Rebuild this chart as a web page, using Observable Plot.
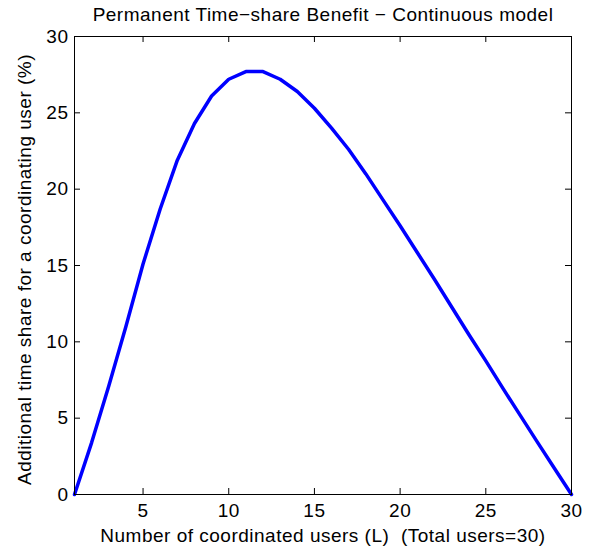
<!DOCTYPE html>
<html>
<head>
<meta charset="utf-8">
<script src="https://cdn.jsdelivr.net/npm/d3@7"></script>
<script src="https://cdn.jsdelivr.net/npm/@observablehq/plot@0.6"></script>
<style>
  html, body { margin: 0; padding: 0; background: #fff; }
  #chart svg text { white-space: pre; letter-spacing: 0.5px; }
</style>
</head>
<body>
<div id="chart"></div>
<script>
const titleText = "Permanent Time\u2212share Benefit \u2212 Continuous model";
const xLabel = "Number of coordinated users (L)  (Total users=30)";
const yLabel = "Additional time share for a coordinating user (%)";

const users = [1, 2, 3, 4, 5, 6, 7, 8, 9, 10, 11, 12, 13, 14, 15, 16, 17, 18, 19, 20, 21, 22, 23, 24, 25, 26, 27, 28, 29, 30];
const share = [0, 3.4, 7.1, 11.0, 15.1, 18.7, 21.9, 24.3, 26.1, 27.2, 27.7, 27.7, 27.2, 26.4, 25.3, 24.0, 22.6, 21.0, 19.3, 17.6, 15.85, 14.1, 12.3, 10.5, 8.75, 6.95, 5.2, 3.45, 1.72, 0];

const xTicks = [5, 10, 15, 20, 25, 30];
const yTicks = [0, 5, 10, 15, 20, 25, 30];

const data = users.map((u, i) => ({L: u, v: share[i]}));

const W = 598, H = 553;
const mL = 74, mR = 27, mT = 36, mB = 59;
const fw = W - mL - mR, fh = H - mT - mB;
const tk = 6;
const font = "Liberation Sans, Arial, Helvetica, sans-serif";

const chart = Plot.plot({
  width: W, height: H,
  marginLeft: mL, marginRight: mR, marginTop: mT, marginBottom: mB,
  style: {fontFamily: font, fontSize: "19px", background: "#fff", color: "#000"},
  x: {domain: [1, 30], ticks: xTicks, tickSize: 0, tickPadding: 9, label: null},
  y: {domain: [0, 30], ticks: yTicks, tickSize: 0, tickPadding: 6, label: null},
  marks: [
    Plot.tickX(xTicks, {x: d => d, insetTop: fh - tk, stroke: "#000"}),
    Plot.tickX(xTicks, {x: d => d, insetBottom: fh - tk, stroke: "#000"}),
    Plot.tickY(yTicks, {y: d => d, insetRight: fw - tk, stroke: "#000"}),
    Plot.tickY(yTicks, {y: d => d, insetLeft: fw - tk, stroke: "#000"}),
    Plot.line(data, {x: "L", y: "v", stroke: "#0000ff", strokeWidth: 3.5, strokeLinejoin: "round"}),
    Plot.frame({stroke: "#000", strokeWidth: 1}),
    Plot.text([titleText], {frameAnchor: "top", dy: -21.5, textAnchor: "middle", lineAnchor: "middle", fontSize: 19, fill: "#000"}),
    Plot.text([xLabel], {frameAnchor: "bottom", dy: 41, textAnchor: "middle", lineAnchor: "middle", fontSize: 19, fill: "#000"}),
    Plot.text([yLabel], {frameAnchor: "left", dx: -50, dy: 4, rotate: -90, textAnchor: "middle", lineAnchor: "middle", fontSize: 19, fill: "#000"})
  ]
});
document.getElementById("chart").appendChild(chart);
</script>
</body>
</html>
